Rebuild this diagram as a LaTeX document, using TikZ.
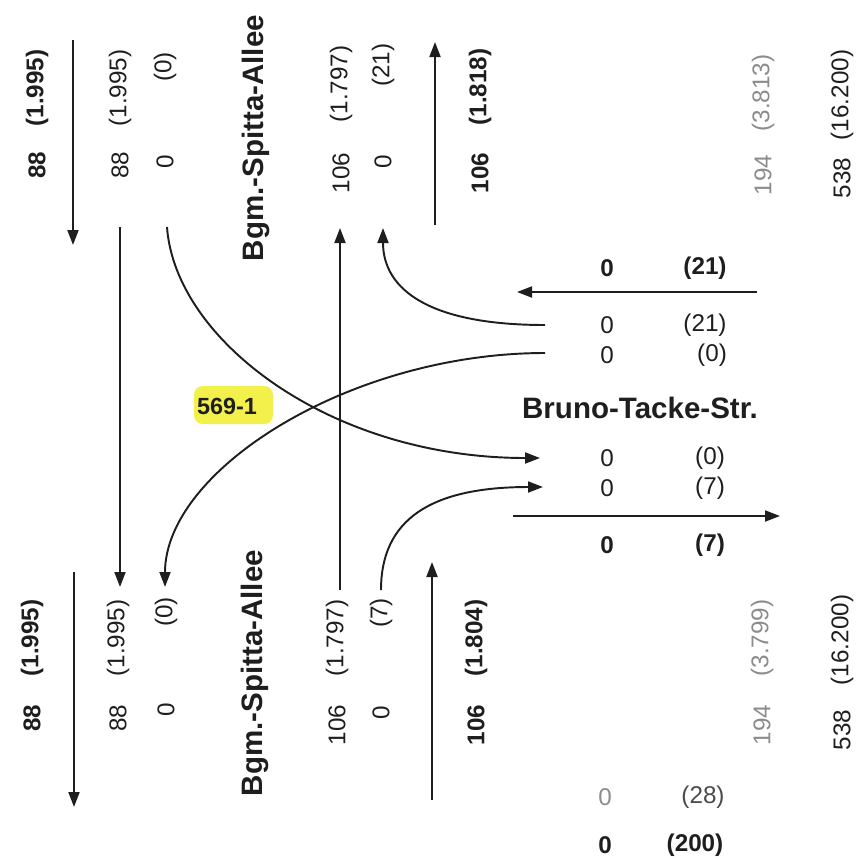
\documentclass[tikz,border=0pt]{standalone}
\usepackage{fontspec}
\setmainfont{Liberation Sans}
\usetikzlibrary{arrows.meta}

\definecolor{ink}{HTML}{1E1E1E}
\definecolor{faint}{HTML}{8C8C8C}
\definecolor{marker}{HTML}{F3F04C}

\tikzset{
  val/.style={font=\fontsize{13.8}{16}\selectfont, text=ink, inner sep=0pt},
  valb/.style={val, font=\fontsize{13.8}{16}\selectfont\bfseries},
  valg/.style={val, text=faint},
  street/.style={font=\fontsize{16.8}{19}\selectfont\bfseries, text=ink, inner sep=0pt},
  flow/.style={draw=ink, line width=1.1pt, -{Triangle[length=3mm,width=2.2mm]}},
}

\begin{document}
\begin{tikzpicture}[x=0.2mm, y=-0.2mm]
\useasboundingbox (0,0) rectangle (866,861);

% north arm
\node[valb, rotate=90] (n1a) at (37,165) {88};
\node[valb, rotate=90] (n1b) at (37,88) {(1.995)};
\node[val, rotate=90] (n2a) at (120,165) {88};
\node[val, rotate=90] (n2b) at (120,88) {(1.995)};
\node[val, rotate=90] (n3a) at (165,162) {0};
\node[val, rotate=90] (n3b) at (165,67) {(0)};
\node[street, rotate=90] (bgmN) at (256,138) {Bgm.-Spitta-Allee};
\node[val, rotate=90] (n4a) at (341,173) {106};
\node[val, rotate=90] (n4b) at (341,84) {(1.797)};
\node[val, rotate=90] (n5a) at (383,162) {0};
\node[val, rotate=90] (n5b) at (383,65) {(21)};
\node[valb, rotate=90] (n6a) at (480,173) {106};
\node[valb, rotate=90] (n6b) at (480,87) {(1.818)};
\node[valg, rotate=90] (n7a) at (763,175) {194};
\node[valg, rotate=90] (n7b) at (763,93) {(3.813)};
\node[val, rotate=90] (n8a) at (842,178) {538};
\node[val, rotate=90] (n8b) at (842,95) {(16.200)};

% south arm
\node[valb, rotate=90] (s1a) at (32,718) {88};
\node[valb, rotate=90] (s1b) at (32,638) {(1.995)};
\node[val, rotate=90] (s2a) at (118,718) {88};
\node[val, rotate=90] (s2b) at (118,638) {(1.995)};
\node[val, rotate=90] (s3a) at (166,710) {0};
\node[val, rotate=90] (s3b) at (166,612) {(0)};
\node[street, rotate=90] (bgmS) at (255,673) {Bgm.-Spitta-Allee};
\node[val, rotate=90] (s4a) at (337,725) {106};
\node[val, rotate=90] (s4b) at (337,638) {(1.797)};
\node[val, rotate=90] (s5a) at (381,713) {0};
\node[val, rotate=90] (s5b) at (381,613) {(7)};
\node[valb, rotate=90] (s6a) at (476,725) {106};
\node[valb, rotate=90] (s6b) at (476,638) {(1.804)};
\node[valg, rotate=90] (s7a) at (762,725) {194};
\node[valg, rotate=90] (s7b) at (762,638) {(3.799)};
\node[val, rotate=90] (s8a) at (842,730) {538};
\node[val, rotate=90] (s8b) at (842,640) {(16.200)};

% east arm
\node[valb] (e1a) at (607,268) {0};
\node[valb] (e1b) at (705,268) {(21)};
\node[val] (e2a) at (607,325) {0};
\node[val] (e2b) at (705,325) {(21)};
\node[val] (e3a) at (607,355) {0};
\node[val] (e3b) at (712,355) {(0)};
\node[street] (bts) at (640,408) {Bruno-Tacke-Str.};
\node[val] (e4a) at (607,458) {0};
\node[val] (e4b) at (710,458) {(0)};
\node[val] (e5a) at (607,488) {0};
\node[val] (e5b) at (710,488) {(7)};
\node[valb] (e6a) at (607,545) {0};
\node[valb] (e6b) at (710,545) {(7)};
\node[valg] (e7a) at (605,797) {0};
\node[val, text=ink!80] (e7b) at (703,797) {(28)};
\node[valb] (e8a) at (605,845) {0};
\node[valb] (e8b) at (695,845) {(200)};

% junction number
\fill[marker, rounded corners=5pt] (194,386) rectangle (273,424);
\node[valb, font=\fontsize{13.3}{15}\selectfont\bfseries] (k) at (227,406) {569-1};

% flow ends
\coordinate (a1) at (73,40);   \coordinate (a2) at (73,245);
\coordinate (b1) at (120,227); \coordinate (b2) at (120,587);
\coordinate (c1) at (167,227); \coordinate (c2) at (540,458);
\coordinate (d1) at (545,353); \coordinate (d2) at (165,587);
\coordinate (f1) at (545,325); \coordinate (f2) at (383,228);
\coordinate (g1) at (340,590); \coordinate (g2) at (340,228);
\coordinate (h1) at (381,590); \coordinate (h2) at (543,487);
\coordinate (i1) at (435,225); \coordinate (i2) at (435,42);
\coordinate (j1) at (432,800); \coordinate (j2) at (432,562);
\coordinate (l1) at (74,572);  \coordinate (l2) at (74,807);
\coordinate (m1) at (757,292); \coordinate (m2) at (517,292);
\coordinate (o1) at (513,516); \coordinate (o2) at (780,516);

\path[flow] (a1) -- (a2);
\path[flow] (b1) -- (b2);
\path[flow] (c1) .. controls (175,340) and (330,458) .. (c2);
\path[flow] (d1) .. controls (350,353) and (165,470) .. (d2);
\path[flow] (f1) .. controls (430,325) and (383,290) .. (f2);
\path[flow] (g1) -- (g2);
\path[flow] (h1) .. controls (381,520) and (430,487) .. (h2);
\path[flow] (i1) -- (i2);
\path[flow] (j1) -- (j2);
\path[flow] (l1) -- (l2);
\path[flow] (m1) -- (m2);
\path[flow] (o1) -- (o2);
\end{tikzpicture}
\end{document}
